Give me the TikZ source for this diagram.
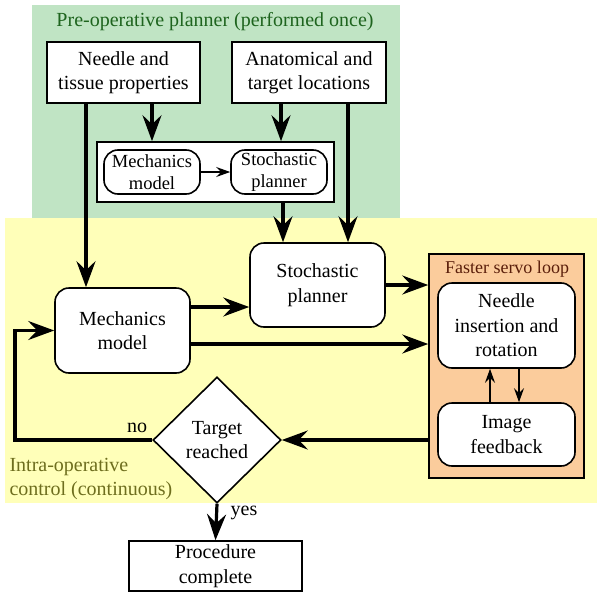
\documentclass[tikz,border=0pt]{standalone}
\usepackage{fontspec}
\setmainfont{Liberation Serif}
\usetikzlibrary{shapes.geometric,arrows.meta}
\definecolor{preclr}{RGB}{192,228,196}
\definecolor{intraclr}{RGB}{255,255,185}
\definecolor{servoclr}{RGB}{251,204,156}
\definecolor{pretxt}{RGB}{30,100,30}
\definecolor{intratxt}{RGB}{110,110,30}
\definecolor{servotxt}{RGB}{90,30,10}

\begin{document}
\begin{tikzpicture}[x=1pt,y=-1pt,
    font=\fontsize{20}{24.5}\selectfont,
    box/.style={draw,line width=1.6pt,fill=white,align=center,inner sep=0pt},
    rbox/.style={box,rounded corners=14pt},
    smallbox/.style={rbox,font=\fontsize{18.5}{22}\selectfont},
    bigarr/.style={-{Stealth[length=26pt,width=19pt,inset=9pt]},line width=3.2pt},
    thinarr/.style={-{Stealth[length=14pt,width=10pt,inset=5pt]},line width=1.5pt}]
\useasboundingbox (0,0) rectangle (602,597);
\fill[preclr] (32,5) rectangle (400,218);
\fill[intraclr] (5,218) rectangle (597,503);

\node (pre) [text=pretxt] at (215,22) {Pre-operative planner (performed once)};
\node (needle) [box,minimum width=153pt,minimum height=61pt] at (123.5,72.5)
    {Needle and\\tissue properties};
\node (anat) [box,minimum width=154pt,minimum height=61pt] at (309,72.5)
    {Anatomical and\\target locations};
\node (inner) [box,minimum width=237pt,minimum height=60pt] at (215.5,172) {};
\node (mechs) [smallbox,minimum width=96pt,minimum height=44pt] at (152,172)
    {Mechanics\\model};
\node (stochs) [smallbox,minimum width=96pt,minimum height=44pt] at (279,172)
    {Stochastic\\planner};

\node (stoch) [rbox,minimum width=135pt,minimum height=84pt] at (317.5,285)
    {Stochastic\\planner};
\node (mech) [rbox,minimum width=135pt,minimum height=85pt] at (122.5,330.5)
    {Mechanics\\model};
\node (servo) [draw,line width=1.6pt,fill=servoclr,minimum width=155pt,minimum height=224pt]
    at (506.5,366) {};
\node (servot) [text=servotxt,font=\fontsize{18}{20}\selectfont] at (507,269)
    {Faster servo loop};
\node (insert) [rbox,minimum width=137pt,minimum height=85pt] at (506.5,325.5)
    {Needle\\insertion and\\rotation};
\node (imgfb) [rbox,minimum width=137pt,minimum height=63pt] at (506.5,434.5)
    {Image\\feedback};
\node (dia) [diamond,box,minimum width=128pt,minimum height=126pt] at (217,440)
    {Target\\reached};
\node (proc) [box,minimum width=173pt,minimum height=50pt] at (215.5,566)
    {Procedure\\complete};
\node (intra) [anchor=west,align=left,text=intratxt] at (6,479)
    {Intra-operative\\control (continuous)};
\node (no) at (137,428) {no};
\node (yes) at (244,513) {yes};

\coordinate (loop) at (15,440);

\draw[bigarr] (needle.south -| 86,0) -- (mech.north -| 86,0);
\draw[bigarr] (needle.south -| mechs) -- (inner.north -| mechs);
\draw[bigarr] (anat.south -| 281,0) -- (inner.north -| 281,0);
\draw[bigarr] (anat.south -| 348,0) -- (stoch.north -| 348,0);
\draw[bigarr] (inner.south -| 283,0) -- (stoch.north -| 283,0);
\draw[thinarr] (mechs) -- (stochs);
\draw[bigarr] (mech.east |- 0,307) -- (stoch.west |- 0,307);
\draw[bigarr] (stoch.east) -- (stoch.east -| servo.west);
\draw[bigarr] (mech.east |- 0,344) -- (servo.west |- 0,344);
\draw[thinarr] (imgfb.north -| 490,0) -- (insert.south -| 490,0);
\draw[thinarr] (insert.south -| 519,0) -- (imgfb.north -| 519,0);
\draw[bigarr] (servo.west |- dia.east) -- (dia.east);
\draw[bigarr] (dia.west) -- (loop) |- (mech.west);
\draw[bigarr] (dia.south) -- (proc.north);

\end{tikzpicture}
\end{document}
